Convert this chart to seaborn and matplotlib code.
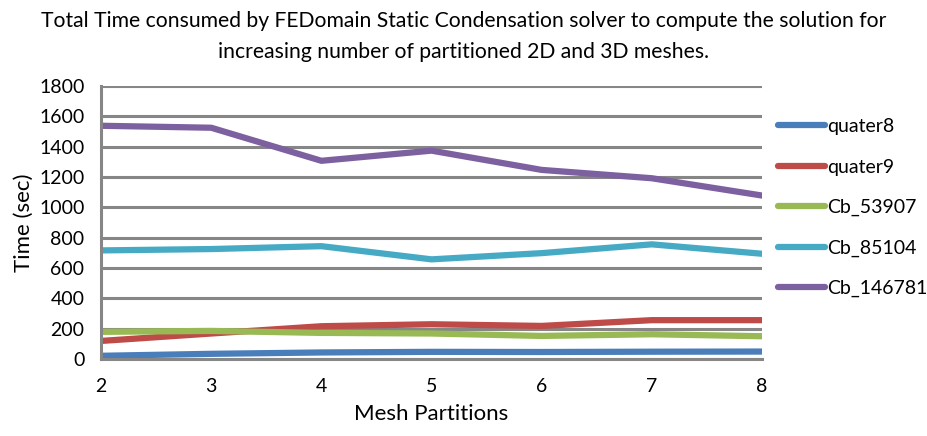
import numpy as np
import pandas as pd
import matplotlib
matplotlib.use("Agg")
import matplotlib.pyplot as plt
import seaborn as sns

partitions = [2, 3, 4, 5, 6, 7, 8]
series_names = ["quater8", "quater9", "Cb_53907", "Cb_85104", "Cb_146781"]
quater8 = [20, 33, 42, 46, 45, 47, 48]
quater9 = [118, 167, 215, 228, 217, 255, 255]
cb_53907 = [178, 184, 171, 167, 151, 162, 149]
cb_85104 = [715, 724, 743, 656, 697, 755, 693]
cb_146781 = [1537, 1524, 1306, 1373, 1246, 1191, 1077]
colors = ["#4a7ebb", "#be4b48", "#98b954", "#46aac5", "#7d60a0"]
y_ticks = [0, 200, 400, 600, 800, 1000, 1200, 1400, 1600, 1800]

df = pd.DataFrame({
    "Mesh Partitions": partitions * 5,
    "Time": quater8 + quater9 + cb_53907 + cb_85104 + cb_146781,
    "series": sum([[n] * len(partitions) for n in series_names], []),
})

sns.set_style("white")
plt.rcParams["font.family"] = ["Lato", "DejaVu Sans"]
plt.rcParams["text.color"] = "black"
plt.rcParams["axes.labelcolor"] = "black"
plt.rcParams["xtick.labelcolor"] = "black"
plt.rcParams["ytick.labelcolor"] = "black"

fig = plt.figure(figsize=(9.28, 4.36), dpi=100)
ax = fig.add_axes([0.109, 0.177, 0.712, 0.626])

sns.lineplot(data=df, x="Mesh Partitions", y="Time", hue="series",
             hue_order=series_names, palette=colors, linewidth=4.5,
             ax=ax, legend=True)

ax.set_xlim(2, 8)
ax.set_ylim(0, 1800)
ax.set_yticks(y_ticks)
ax.set_xticks(partitions)
ax.yaxis.grid(True, color="#868686", linewidth=2.2)
ax.set_axisbelow(True)
for s in ["top", "right"]:
    ax.spines[s].set_visible(False)
for s in ["left", "bottom"]:
    ax.spines[s].set_color("#868686")
    ax.spines[s].set_linewidth(2.2)
ax.tick_params(axis="both", which="both", direction="out", length=6,
               width=2, color="#868686", labelsize=14)
ax.tick_params(axis="x", pad=8)
ax.tick_params(axis="y", pad=6)
ax.set_xlabel("Mesh Partitions", fontsize=16, labelpad=6)
ax.set_ylabel("Time (sec)", fontsize=16, labelpad=4)

handles, labels = ax.get_legend_handles_labels()
ax.legend(handles, labels, loc="upper left", bbox_to_anchor=(1.013, 0.91),
          frameon=False, fontsize=14, handlelength=2.4, handletextpad=0.1,
          labelspacing=1.2, borderaxespad=0)

fig.suptitle("Total Time consumed by FEDomain Static Condensation solver to compute the solution for\n"
             "increasing number of partitioned 2D and 3D meshes.",
             fontsize=15.2, y=0.975, linespacing=1.7)

fig.savefig("out.png", dpi=100)
